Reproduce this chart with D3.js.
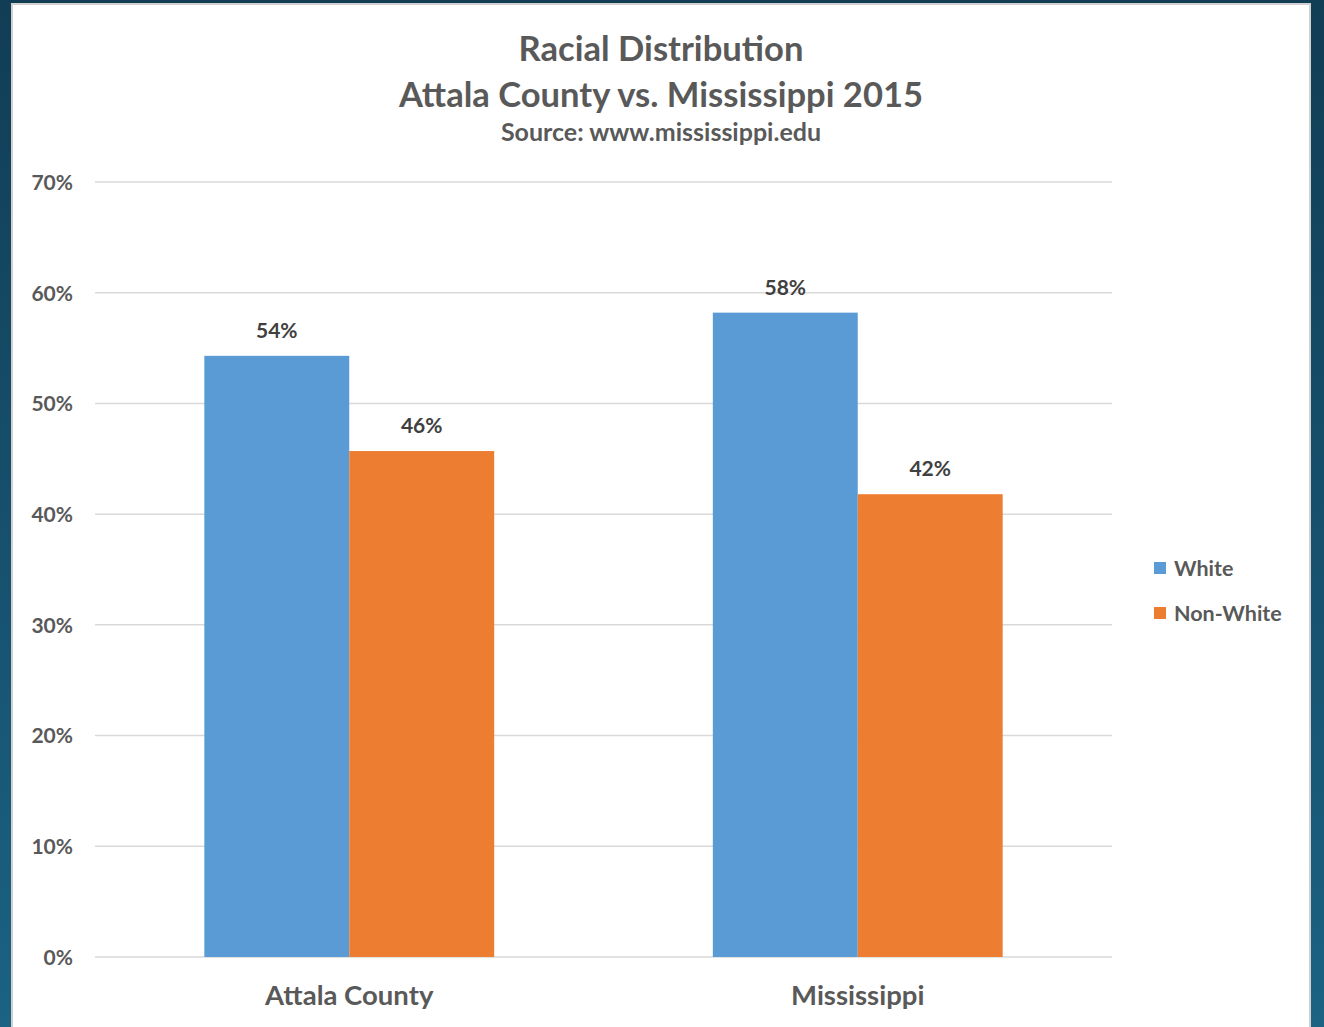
<!DOCTYPE html>
<html>
<head>
<meta charset="utf-8">
<script src="https://cdn.jsdelivr.net/npm/d3@7"></script>
<style>
  html, body { margin: 0; padding: 0; }
  body { width: 1324px; height: 1027px; overflow: hidden; }
  svg { display: block; }
  text { font-family: Lato, "Open Sans", sans-serif; font-weight: 700; }
</style>
</head>
<body>
<svg id="chart" width="1324" height="1027"></svg>
<script>
const categories = ["Attala County", "Mississippi"];
const seriesNames = ["White", "Non-White"];
const whiteValues = [0.543, 0.582];
const nonWhiteValues = [0.457, 0.418];
const yTicks = [0, 0.1, 0.2, 0.3, 0.4, 0.5, 0.6, 0.7];
const titleLines = ["Racial Distribution", "Attala County vs. Mississippi 2015"];
const subtitle = "Source: www.mississippi.edu";

const colors = {"White": "#5b9bd5", "Non-White": "#ed7d31"};
const seriesValues = {"White": whiteValues, "Non-White": nonWhiteValues};

const svg = d3.select("#chart");

// background gradient
const defs = svg.append("defs");
const grad = defs.append("linearGradient").attr("id", "bg").attr("x1", 0).attr("y1", 0).attr("x2", 0).attr("y2", 1);
grad.append("stop").attr("offset", "0%").attr("stop-color", "#113d55");
grad.append("stop").attr("offset", "100%").attr("stop-color", "#1b6283");
svg.append("rect").attr("width", 1324).attr("height", 1027).attr("fill", "url(#bg)");

// white panel
svg.append("rect").attr("x", 12).attr("y", 4).attr("width", 1298).attr("height", 1040)
  .attr("fill", "#ffffff").attr("stroke", "#d0d0d0").attr("stroke-width", 2);

const plot = {left: 95, right: 1112, top: 182, bottom: 957};

const y = d3.scaleLinear().domain([0, 0.7]).range([plot.bottom, plot.top]);
const x0 = d3.scaleBand().domain(categories).range([plot.left, plot.right]).paddingInner(0.43).paddingOuter(0.215);
const x1 = d3.scaleBand().domain(seriesNames).range([0, x0.bandwidth()]);

// gridlines
svg.append("g").selectAll("line").data(yTicks).join("line")
  .attr("x1", plot.left).attr("x2", plot.right)
  .attr("y1", d => y(d)).attr("y2", d => y(d))
  .attr("stroke", "#d9d9d9").attr("stroke-width", 1.5);

// y axis labels
const yAxis = d3.axisLeft(y).tickValues(yTicks).tickFormat(d3.format(".0%")).tickSize(0).tickPadding(0);
const yg = svg.append("g").attr("transform", `translate(${plot.left - 22},0)`).call(yAxis);
yg.select(".domain").remove();
yg.selectAll("text").attr("fill", "#595959").attr("font-size", 21)
  .attr("font-family", "Lato, sans-serif").attr("font-weight", 700).attr("dy", "0.35em");

// bars
const rows = [];
categories.forEach((c, i) => seriesNames.forEach(s => rows.push({cat: c, series: s, value: seriesValues[s][i]})));

svg.append("g").selectAll("rect").data(rows).join("rect")
  .attr("x", d => x0(d.cat) + x1(d.series))
  .attr("y", d => y(d.value))
  .attr("width", x1.bandwidth())
  .attr("height", d => y(0) - y(d.value))
  .attr("fill", d => colors[d.series]);

// data labels
svg.append("g").selectAll("text").data(rows).join("text")
  .attr("x", d => x0(d.cat) + x1(d.series) + x1.bandwidth() / 2)
  .attr("y", d => y(d.value) - 18)
  .attr("text-anchor", "middle")
  .attr("fill", "#404040").attr("font-size", 21)
  .text(d => d3.format(".0%")(d.value));

// x axis labels
const xAxis = d3.axisBottom(x0).tickSize(0).tickPadding(0);
const xg = svg.append("g").attr("transform", `translate(0,${plot.bottom})`).call(xAxis);
xg.select(".domain").remove();
xg.selectAll("text").attr("fill", "#595959").attr("font-size", 27.5)
  .attr("font-family", "Lato, sans-serif").attr("font-weight", 700)
  .attr("dy", null).attr("y", 48);

// title
svg.append("g").selectAll("text").data(titleLines).join("text")
  .attr("x", 661).attr("y", (d, i) => 61 + i * 46)
  .attr("text-anchor", "middle").attr("fill", "#595959").attr("font-size", 34.6)
  .text(d => d);
svg.append("text").attr("x", 661).attr("y", 141).attr("text-anchor", "middle")
  .attr("fill", "#595959").attr("font-size", 25).text(subtitle);

// legend
const legend = svg.append("g").selectAll("g").data(seriesNames).join("g")
  .attr("transform", (d, i) => `translate(1154,${562 + i * 45})`);
legend.append("rect").attr("width", 12).attr("height", 12).attr("fill", d => colors[d]);
legend.append("text").attr("x", 20).attr("y", 13.5).attr("fill", "#595959").attr("font-size", 21.5).text(d => d);
</script>
</body>
</html>
